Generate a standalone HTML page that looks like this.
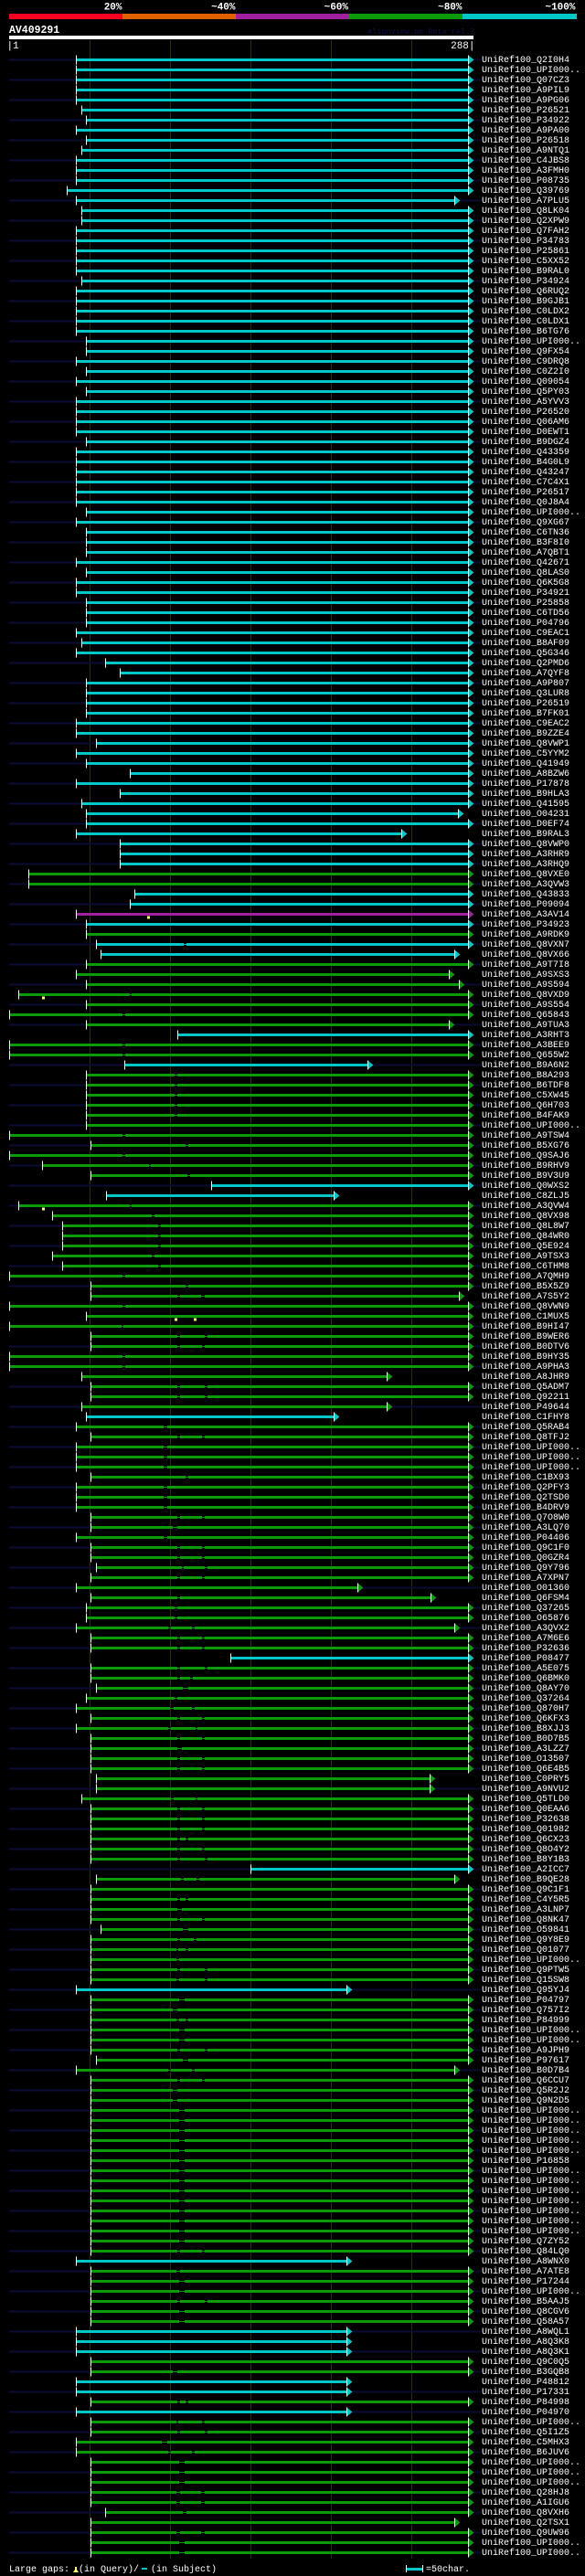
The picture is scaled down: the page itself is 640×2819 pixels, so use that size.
<!DOCTYPE html>
<html><head><meta charset="utf-8"><style>
*{margin:0;padding:0}
html,body{background:#000;width:640px;height:2819px;overflow:hidden}
svg{display:block}
text{font-family:"Liberation Mono","DejaVu Sans Mono",monospace;fill:#fff}
.r text{font-size:10px}
.hb{font-weight:bold;font-size:11px}
.c{stroke:#00c8c8;stroke-width:3}
.g{stroke:#0a9a0a;stroke-width:3}
.m{stroke:#a020a0;stroke-width:3}
.ct{stroke:#00c8c8;stroke-width:1}
.gt{stroke:#0a9a0a;stroke-width:1}
.w{stroke:#fff;stroke-width:1}
.grid{stroke:#2e2e06;stroke-width:1}
.y{fill:#ffff70}
</style></head><body>
<svg width="640" height="2819" viewBox="0 0 640 2819" xmlns="http://www.w3.org/2000/svg">
<defs>
<path id="ac" d="M0-4.5L5.5 0L0 4.5Z" fill="#00c8c8"/>
<path id="ag" d="M0-4.5L5.5 0L0 4.5Z" fill="#0a9a0a"/>
<path id="am" d="M0-4.5L5.5 0L0 4.5Z" fill="#a020a0"/>
<pattern id="nv" patternUnits="userSpaceOnUse" x="0" y="64.5" width="640" height="22"><rect x="0" y="0" width="640" height="2" fill="#0b0b36"/></pattern>
</defs>
<rect width="640" height="2819" fill="#000"/>
<!-- header -->
<text class="hb" x="133.5" y="10.5" text-anchor="end">20%</text>
<text class="hb" x="257.5" y="10.5" text-anchor="end">~40%</text>
<text class="hb" x="381" y="10.5" text-anchor="end">~60%</text>
<text class="hb" x="505.5" y="10.5" text-anchor="end">~80%</text>
<text class="hb" x="629.5" y="10.5" text-anchor="end">~100%</text>
<rect x="10" y="15" width="124" height="6" fill="#f5001e"/>
<rect x="134" y="15" width="124" height="6" fill="#e06000"/>
<rect x="258" y="15" width="124" height="6" fill="#a020a0"/>
<rect x="382" y="15" width="124" height="6" fill="#0a9a0a"/>
<rect x="506" y="15" width="125" height="6" fill="#00c8c8"/>
<text x="10" y="36" style="font-weight:bold;font-size:11.5px">AV409291</text>
<text x="402" y="37" style="font-size:8.5px;fill:#12124a">AlignView.pm Beta rel.7</text>
<rect x="10" y="39" width="508" height="4" fill="#fff"/>
<text x="7.5" y="53" style="font-size:11px">|1</text>
<text x="519.5" y="53" style="font-size:11px" text-anchor="end">288|</text>
<!-- grid -->
<path class="grid" d="M98.5 44V2800M186.5 44V2800M274.5 44V2800M362.5 44V2800M450.5 44V2800"/>
<!-- navy row stripes -->
<rect x="10" y="60" width="516" height="2740" fill="url(#nv)"/>
<g class="r">
<g transform="translate(0,65.5)"><path class="c" d="M83 0H512"/><path class="w" d="M83.5-5v10M512.5-5v10"/><use href="#ac" x="513"/><text x="527" y="2.5">UniRef100_Q2I0H4</text></g>
<g transform="translate(0,76.5)"><path class="c" d="M83 0H512"/><path class="w" d="M83.5-5v10M512.5-5v10"/><use href="#ac" x="513"/><text x="527" y="2.5">UniRef100_UPI000..</text></g>
<g transform="translate(0,87.5)"><path class="c" d="M83 0H512"/><path class="w" d="M83.5-5v10M512.5-5v10"/><use href="#ac" x="513"/><text x="527" y="2.5">UniRef100_Q07CZ3</text></g>
<g transform="translate(0,98.5)"><path class="c" d="M83 0H512"/><path class="w" d="M83.5-5v10M512.5-5v10"/><use href="#ac" x="513"/><text x="527" y="2.5">UniRef100_A9PIL9</text></g>
<g transform="translate(0,109.5)"><path class="c" d="M83 0H512"/><path class="w" d="M83.5-5v10M512.5-5v10"/><use href="#ac" x="513"/><text x="527" y="2.5">UniRef100_A9PG06</text></g>
<g transform="translate(0,120.5)"><path class="c" d="M89 0H512"/><path class="w" d="M89.5-5v10M512.5-5v10"/><use href="#ac" x="513"/><text x="527" y="2.5">UniRef100_P26521</text></g>
<g transform="translate(0,131.5)"><path class="c" d="M94 0H512"/><path class="w" d="M94.5-5v10M512.5-5v10"/><use href="#ac" x="513"/><text x="527" y="2.5">UniRef100_P34922</text></g>
<g transform="translate(0,142.5)"><path class="c" d="M83 0H512"/><path class="w" d="M83.5-5v10M512.5-5v10"/><use href="#ac" x="513"/><text x="527" y="2.5">UniRef100_A9PA00</text></g>
<g transform="translate(0,153.5)"><path class="c" d="M94 0H512"/><path class="w" d="M94.5-5v10M512.5-5v10"/><use href="#ac" x="513"/><text x="527" y="2.5">UniRef100_P26518</text></g>
<g transform="translate(0,164.5)"><path class="c" d="M89 0H512"/><path class="w" d="M89.5-5v10M512.5-5v10"/><use href="#ac" x="513"/><text x="527" y="2.5">UniRef100_A9NTQ1</text></g>
<g transform="translate(0,175.5)"><path class="c" d="M83 0H512"/><path class="w" d="M83.5-5v10M512.5-5v10"/><use href="#ac" x="513"/><text x="527" y="2.5">UniRef100_C4JBS8</text></g>
<g transform="translate(0,186.5)"><path class="c" d="M83 0H512"/><path class="w" d="M83.5-5v10M512.5-5v10"/><use href="#ac" x="513"/><text x="527" y="2.5">UniRef100_A3FMH0</text></g>
<g transform="translate(0,197.5)"><path class="c" d="M83 0H512"/><path class="w" d="M83.5-5v10M512.5-5v10"/><use href="#ac" x="513"/><text x="527" y="2.5">UniRef100_P08735</text></g>
<g transform="translate(0,208.5)"><path class="c" d="M73 0H512"/><path class="w" d="M73.5-5v10M512.5-5v10"/><use href="#ac" x="513"/><text x="527" y="2.5">UniRef100_Q39769</text></g>
<g transform="translate(0,219.5)"><path class="c" d="M83 0H497"/><path class="w" d="M83.5-5v10M497.5-5v10"/><use href="#ac" x="498"/><text x="527" y="2.5">UniRef100_A7PLU5</text></g>
<g transform="translate(0,230.5)"><path class="c" d="M89 0H512"/><path class="w" d="M89.5-5v10M512.5-5v10"/><use href="#ac" x="513"/><text x="527" y="2.5">UniRef100_Q8LK04</text></g>
<g transform="translate(0,241.5)"><path class="c" d="M89 0H512"/><path class="w" d="M89.5-5v10M512.5-5v10"/><use href="#ac" x="513"/><text x="527" y="2.5">UniRef100_Q2XPW9</text></g>
<g transform="translate(0,252.5)"><path class="c" d="M83 0H512"/><path class="w" d="M83.5-5v10M512.5-5v10"/><use href="#ac" x="513"/><text x="527" y="2.5">UniRef100_Q7FAH2</text></g>
<g transform="translate(0,263.5)"><path class="c" d="M83 0H512"/><path class="w" d="M83.5-5v10M512.5-5v10"/><use href="#ac" x="513"/><text x="527" y="2.5">UniRef100_P34783</text></g>
<g transform="translate(0,274.5)"><path class="c" d="M83 0H512"/><path class="w" d="M83.5-5v10M512.5-5v10"/><use href="#ac" x="513"/><text x="527" y="2.5">UniRef100_P25861</text></g>
<g transform="translate(0,285.5)"><path class="c" d="M83 0H512"/><path class="w" d="M83.5-5v10M512.5-5v10"/><use href="#ac" x="513"/><text x="527" y="2.5">UniRef100_C5XX52</text></g>
<g transform="translate(0,296.5)"><path class="c" d="M83 0H512"/><path class="w" d="M83.5-5v10M512.5-5v10"/><use href="#ac" x="513"/><text x="527" y="2.5">UniRef100_B9RAL0</text></g>
<g transform="translate(0,307.5)"><path class="c" d="M89 0H512"/><path class="w" d="M89.5-5v10M512.5-5v10"/><use href="#ac" x="513"/><text x="527" y="2.5">UniRef100_P34924</text></g>
<g transform="translate(0,318.5)"><path class="c" d="M83 0H512"/><path class="w" d="M83.5-5v10M512.5-5v10"/><use href="#ac" x="513"/><text x="527" y="2.5">UniRef100_Q6RUQ2</text></g>
<g transform="translate(0,329.5)"><path class="c" d="M83 0H512"/><path class="w" d="M83.5-5v10M512.5-5v10"/><use href="#ac" x="513"/><text x="527" y="2.5">UniRef100_B9GJB1</text></g>
<g transform="translate(0,340.5)"><path class="c" d="M83 0H512"/><path class="w" d="M83.5-5v10M512.5-5v10"/><use href="#ac" x="513"/><text x="527" y="2.5">UniRef100_C0LDX2</text></g>
<g transform="translate(0,351.5)"><path class="c" d="M83 0H512"/><path class="w" d="M83.5-5v10M512.5-5v10"/><use href="#ac" x="513"/><text x="527" y="2.5">UniRef100_C0LDX1</text></g>
<g transform="translate(0,362.5)"><path class="c" d="M83 0H512"/><path class="w" d="M83.5-5v10M512.5-5v10"/><use href="#ac" x="513"/><text x="527" y="2.5">UniRef100_B6TG76</text></g>
<g transform="translate(0,373.5)"><path class="c" d="M94 0H512"/><path class="w" d="M94.5-5v10M512.5-5v10"/><use href="#ac" x="513"/><text x="527" y="2.5">UniRef100_UPI000..</text></g>
<g transform="translate(0,384.5)"><path class="c" d="M94 0H512"/><path class="w" d="M94.5-5v10M512.5-5v10"/><use href="#ac" x="513"/><text x="527" y="2.5">UniRef100_Q9FX54</text></g>
<g transform="translate(0,395.5)"><path class="c" d="M83 0H512"/><path class="w" d="M83.5-5v10M512.5-5v10"/><use href="#ac" x="513"/><text x="527" y="2.5">UniRef100_C9DRQ8</text></g>
<g transform="translate(0,406.5)"><path class="c" d="M94 0H512"/><path class="w" d="M94.5-5v10M512.5-5v10"/><use href="#ac" x="513"/><text x="527" y="2.5">UniRef100_C0Z2I0</text></g>
<g transform="translate(0,417.5)"><path class="c" d="M83 0H512"/><path class="w" d="M83.5-5v10M512.5-5v10"/><use href="#ac" x="513"/><text x="527" y="2.5">UniRef100_Q09054</text></g>
<g transform="translate(0,428.5)"><path class="c" d="M94 0H512"/><path class="w" d="M94.5-5v10M512.5-5v10"/><use href="#ac" x="513"/><text x="527" y="2.5">UniRef100_Q5PY03</text></g>
<g transform="translate(0,439.5)"><path class="c" d="M83 0H512"/><path class="w" d="M83.5-5v10M512.5-5v10"/><use href="#ac" x="513"/><text x="527" y="2.5">UniRef100_A5YVV3</text></g>
<g transform="translate(0,450.5)"><path class="c" d="M83 0H512"/><path class="w" d="M83.5-5v10M512.5-5v10"/><use href="#ac" x="513"/><text x="527" y="2.5">UniRef100_P26520</text></g>
<g transform="translate(0,461.5)"><path class="c" d="M83 0H512"/><path class="w" d="M83.5-5v10M512.5-5v10"/><use href="#ac" x="513"/><text x="527" y="2.5">UniRef100_Q06AM6</text></g>
<g transform="translate(0,472.5)"><path class="c" d="M83 0H512"/><path class="w" d="M83.5-5v10M512.5-5v10"/><use href="#ac" x="513"/><text x="527" y="2.5">UniRef100_D0EWT1</text></g>
<g transform="translate(0,483.5)"><path class="c" d="M94 0H512"/><path class="w" d="M94.5-5v10M512.5-5v10"/><use href="#ac" x="513"/><text x="527" y="2.5">UniRef100_B9DGZ4</text></g>
<g transform="translate(0,494.5)"><path class="c" d="M83 0H512"/><path class="w" d="M83.5-5v10M512.5-5v10"/><use href="#ac" x="513"/><text x="527" y="2.5">UniRef100_Q43359</text></g>
<g transform="translate(0,505.5)"><path class="c" d="M83 0H512"/><path class="w" d="M83.5-5v10M512.5-5v10"/><use href="#ac" x="513"/><text x="527" y="2.5">UniRef100_B4G0L9</text></g>
<g transform="translate(0,516.5)"><path class="c" d="M83 0H512"/><path class="w" d="M83.5-5v10M512.5-5v10"/><use href="#ac" x="513"/><text x="527" y="2.5">UniRef100_Q43247</text></g>
<g transform="translate(0,527.5)"><path class="c" d="M83 0H512"/><path class="w" d="M83.5-5v10M512.5-5v10"/><use href="#ac" x="513"/><text x="527" y="2.5">UniRef100_C7C4X1</text></g>
<g transform="translate(0,538.5)"><path class="c" d="M83 0H512"/><path class="w" d="M83.5-5v10M512.5-5v10"/><use href="#ac" x="513"/><text x="527" y="2.5">UniRef100_P26517</text></g>
<g transform="translate(0,549.5)"><path class="c" d="M83 0H512"/><path class="w" d="M83.5-5v10M512.5-5v10"/><use href="#ac" x="513"/><text x="527" y="2.5">UniRef100_Q0J8A4</text></g>
<g transform="translate(0,560.5)"><path class="c" d="M94 0H512"/><path class="w" d="M94.5-5v10M512.5-5v10"/><use href="#ac" x="513"/><text x="527" y="2.5">UniRef100_UPI000..</text></g>
<g transform="translate(0,571.5)"><path class="c" d="M83 0H512"/><path class="w" d="M83.5-5v10M512.5-5v10"/><use href="#ac" x="513"/><text x="527" y="2.5">UniRef100_Q9XG67</text></g>
<g transform="translate(0,582.5)"><path class="c" d="M94 0H512"/><path class="w" d="M94.5-5v10M512.5-5v10"/><use href="#ac" x="513"/><text x="527" y="2.5">UniRef100_C6TN36</text></g>
<g transform="translate(0,593.5)"><path class="c" d="M94 0H512"/><path class="w" d="M94.5-5v10M512.5-5v10"/><use href="#ac" x="513"/><text x="527" y="2.5">UniRef100_B3F8I0</text></g>
<g transform="translate(0,604.5)"><path class="c" d="M94 0H512"/><path class="w" d="M94.5-5v10M512.5-5v10"/><use href="#ac" x="513"/><text x="527" y="2.5">UniRef100_A7QBT1</text></g>
<g transform="translate(0,615.5)"><path class="c" d="M83 0H512"/><path class="w" d="M83.5-5v10M512.5-5v10"/><use href="#ac" x="513"/><text x="527" y="2.5">UniRef100_Q42671</text></g>
<g transform="translate(0,626.5)"><path class="c" d="M94 0H512"/><path class="w" d="M94.5-5v10M512.5-5v10"/><use href="#ac" x="513"/><text x="527" y="2.5">UniRef100_Q8LAS0</text></g>
<g transform="translate(0,637.5)"><path class="c" d="M83 0H512"/><path class="w" d="M83.5-5v10M512.5-5v10"/><use href="#ac" x="513"/><text x="527" y="2.5">UniRef100_Q6K5G8</text></g>
<g transform="translate(0,648.5)"><path class="c" d="M83 0H512"/><path class="w" d="M83.5-5v10M512.5-5v10"/><use href="#ac" x="513"/><text x="527" y="2.5">UniRef100_P34921</text></g>
<g transform="translate(0,659.5)"><path class="c" d="M94 0H512"/><path class="w" d="M94.5-5v10M512.5-5v10"/><use href="#ac" x="513"/><text x="527" y="2.5">UniRef100_P25858</text></g>
<g transform="translate(0,670.5)"><path class="c" d="M94 0H512"/><path class="w" d="M94.5-5v10M512.5-5v10"/><use href="#ac" x="513"/><text x="527" y="2.5">UniRef100_C6TD56</text></g>
<g transform="translate(0,681.5)"><path class="c" d="M94 0H512"/><path class="w" d="M94.5-5v10M512.5-5v10"/><use href="#ac" x="513"/><text x="527" y="2.5">UniRef100_P04796</text></g>
<g transform="translate(0,692.5)"><path class="c" d="M83 0H512"/><path class="w" d="M83.5-5v10M512.5-5v10"/><use href="#ac" x="513"/><text x="527" y="2.5">UniRef100_C9EAC1</text></g>
<g transform="translate(0,703.5)"><path class="c" d="M89 0H512"/><path class="w" d="M89.5-5v10M512.5-5v10"/><use href="#ac" x="513"/><text x="527" y="2.5">UniRef100_B8AF09</text></g>
<g transform="translate(0,714.5)"><path class="c" d="M83 0H512"/><path class="w" d="M83.5-5v10M512.5-5v10"/><use href="#ac" x="513"/><text x="527" y="2.5">UniRef100_Q5G346</text></g>
<g transform="translate(0,725.5)"><path class="c" d="M115 0H512"/><path class="w" d="M115.5-5v10M512.5-5v10"/><use href="#ac" x="513"/><text x="527" y="2.5">UniRef100_Q2PMD6</text></g>
<g transform="translate(0,736.5)"><path class="c" d="M131 0H512"/><path class="w" d="M131.5-5v10M512.5-5v10"/><use href="#ac" x="513"/><text x="527" y="2.5">UniRef100_A7QYF8</text></g>
<g transform="translate(0,747.5)"><path class="c" d="M94 0H512"/><path class="w" d="M94.5-5v10M512.5-5v10"/><use href="#ac" x="513"/><text x="527" y="2.5">UniRef100_A9P807</text></g>
<g transform="translate(0,758.5)"><path class="c" d="M94 0H512"/><path class="w" d="M94.5-5v10M512.5-5v10"/><use href="#ac" x="513"/><text x="527" y="2.5">UniRef100_Q3LUR8</text></g>
<g transform="translate(0,769.5)"><path class="c" d="M94 0H512"/><path class="w" d="M94.5-5v10M512.5-5v10"/><use href="#ac" x="513"/><text x="527" y="2.5">UniRef100_P26519</text></g>
<g transform="translate(0,780.5)"><path class="c" d="M94 0H512"/><path class="w" d="M94.5-5v10M512.5-5v10"/><use href="#ac" x="513"/><text x="527" y="2.5">UniRef100_B7FK01</text></g>
<g transform="translate(0,791.5)"><path class="c" d="M83 0H512"/><path class="w" d="M83.5-5v10M512.5-5v10"/><use href="#ac" x="513"/><text x="527" y="2.5">UniRef100_C9EAC2</text></g>
<g transform="translate(0,802.5)"><path class="c" d="M83 0H512"/><path class="w" d="M83.5-5v10M512.5-5v10"/><use href="#ac" x="513"/><text x="527" y="2.5">UniRef100_B9ZZE4</text></g>
<g transform="translate(0,813.5)"><path class="c" d="M105 0H512"/><path class="w" d="M105.5-5v10M512.5-5v10"/><use href="#ac" x="513"/><text x="527" y="2.5">UniRef100_Q8VWP1</text></g>
<g transform="translate(0,824.5)"><path class="c" d="M83 0H512"/><path class="w" d="M83.5-5v10M512.5-5v10"/><use href="#ac" x="513"/><text x="527" y="2.5">UniRef100_C5YYM2</text></g>
<g transform="translate(0,835.5)"><path class="c" d="M94 0H512"/><path class="w" d="M94.5-5v10M512.5-5v10"/><use href="#ac" x="513"/><text x="527" y="2.5">UniRef100_Q41949</text></g>
<g transform="translate(0,846.5)"><path class="c" d="M142 0H512"/><path class="w" d="M142.5-5v10M512.5-5v10"/><use href="#ac" x="513"/><text x="527" y="2.5">UniRef100_A8BZW6</text></g>
<g transform="translate(0,857.5)"><path class="c" d="M83 0H512"/><path class="w" d="M83.5-5v10M512.5-5v10"/><use href="#ac" x="513"/><text x="527" y="2.5">UniRef100_P17878</text></g>
<g transform="translate(0,868.5)"><path class="c" d="M131 0H512"/><path class="w" d="M131.5-5v10M512.5-5v10"/><use href="#ac" x="513"/><text x="527" y="2.5">UniRef100_B9HLA3</text></g>
<g transform="translate(0,879.5)"><path class="c" d="M89 0H512"/><path class="w" d="M89.5-5v10M512.5-5v10"/><use href="#ac" x="513"/><text x="527" y="2.5">UniRef100_Q41595</text></g>
<g transform="translate(0,890.5)"><path class="c" d="M94 0H501"/><path class="w" d="M94.5-5v10M501.5-5v10"/><use href="#ac" x="502"/><text x="527" y="2.5">UniRef100_O04231</text></g>
<g transform="translate(0,901.5)"><path class="c" d="M94 0H512"/><path class="w" d="M94.5-5v10M512.5-5v10"/><use href="#ac" x="513"/><text x="527" y="2.5">UniRef100_D0EF74</text></g>
<g transform="translate(0,912.5)"><path class="c" d="M83 0H439"/><path class="w" d="M83.5-5v10M439.5-5v10"/><use href="#ac" x="440"/><text x="527" y="2.5">UniRef100_B9RAL3</text></g>
<g transform="translate(0,923.5)"><path class="c" d="M131 0H512"/><path class="w" d="M131.5-5v10M512.5-5v10"/><use href="#ac" x="513"/><text x="527" y="2.5">UniRef100_Q8VWP0</text></g>
<g transform="translate(0,934.5)"><path class="c" d="M131 0H512"/><path class="w" d="M131.5-5v10M512.5-5v10"/><use href="#ac" x="513"/><text x="527" y="2.5">UniRef100_A3RHR9</text></g>
<g transform="translate(0,945.5)"><path class="c" d="M131 0H512"/><path class="w" d="M131.5-5v10M512.5-5v10"/><use href="#ac" x="513"/><text x="527" y="2.5">UniRef100_A3RHQ9</text></g>
<g transform="translate(0,956.5)"><path class="g" d="M31 0H512"/><path class="w" d="M31.5-5v10M512.5-5v10"/><use href="#ag" x="513"/><text x="527" y="2.5">UniRef100_Q8VXE0</text></g>
<g transform="translate(0,967.5)"><path class="g" d="M31 0H512"/><path class="w" d="M31.5-5v10M512.5-5v10"/><use href="#ag" x="513"/><text x="527" y="2.5">UniRef100_A3QVW3</text></g>
<g transform="translate(0,978.5)"><path class="c" d="M147 0H512"/><path class="w" d="M147.5-5v10M512.5-5v10"/><use href="#ac" x="513"/><text x="527" y="2.5">UniRef100_Q43833</text></g>
<g transform="translate(0,989.5)"><path class="c" d="M142 0H512"/><path class="w" d="M142.5-5v10M512.5-5v10"/><use href="#ac" x="513"/><text x="527" y="2.5">UniRef100_P09094</text></g>
<g transform="translate(0,1000.5)"><path class="m" d="M83 0H512"/><path class="w" d="M83.5-5v10M512.5-5v10"/><use href="#am" x="513"/><rect class="y" x="161" y="2" width="3" height="3"/><text x="527" y="2.5">UniRef100_A3AV14</text></g>
<g transform="translate(0,1011.5)"><path class="c" d="M94 0H512"/><path class="w" d="M94.5-5v10M512.5-5v10"/><use href="#ac" x="513"/><text x="527" y="2.5">UniRef100_P34923</text></g>
<g transform="translate(0,1022.5)"><path class="g" d="M94 0H512"/><path class="w" d="M94.5-5v10M512.5-5v10"/><use href="#ag" x="513"/><text x="527" y="2.5">UniRef100_A9RDK9</text></g>
<g transform="translate(0,1033.5)"><path class="ct" d="M105 0H512"/><path class="c" d="M105 0H201M204 0H512"/><path class="w" d="M105.5-5v10M512.5-5v10"/><use href="#ac" x="513"/><text x="527" y="2.5">UniRef100_Q8VXN7</text></g>
<g transform="translate(0,1044.5)"><path class="c" d="M110 0H497"/><path class="w" d="M110.5-5v10M497.5-5v10"/><use href="#ac" x="498"/><text x="527" y="2.5">UniRef100_Q8VX66</text></g>
<g transform="translate(0,1055.5)"><path class="g" d="M94 0H512"/><path class="w" d="M94.5-5v10M512.5-5v10"/><use href="#ag" x="513"/><text x="527" y="2.5">UniRef100_A9T7I8</text></g>
<g transform="translate(0,1066.5)"><path class="g" d="M83 0H491"/><path class="w" d="M83.5-5v10M491.5-5v10"/><use href="#ag" x="492"/><text x="527" y="2.5">UniRef100_A9SXS3</text></g>
<g transform="translate(0,1077.5)"><path class="g" d="M94 0H502"/><path class="w" d="M94.5-5v10M502.5-5v10"/><use href="#ag" x="503"/><text x="527" y="2.5">UniRef100_A9S594</text></g>
<g transform="translate(0,1088.5)"><path class="gt" d="M20 0H512"/><path class="g" d="M20 0H142M144 0H512"/><path class="w" d="M20.5-5v10M512.5-5v10"/><use href="#ag" x="513"/><rect class="y" x="46" y="2" width="3" height="3"/><text x="527" y="2.5">UniRef100_Q8VXD9</text></g>
<g transform="translate(0,1099.5)"><path class="g" d="M94 0H512"/><path class="w" d="M94.5-5v10M512.5-5v10"/><use href="#ag" x="513"/><text x="527" y="2.5">UniRef100_A9S554</text></g>
<g transform="translate(0,1110.5)"><path class="gt" d="M10 0H512"/><path class="g" d="M10 0H134M137 0H512"/><path class="w" d="M10.5-5v10M512.5-5v10"/><use href="#ag" x="513"/><text x="527" y="2.5">UniRef100_Q65843</text></g>
<g transform="translate(0,1121.5)"><path class="g" d="M94 0H491"/><path class="w" d="M94.5-5v10M491.5-5v10"/><use href="#ag" x="492"/><text x="527" y="2.5">UniRef100_A9TUA3</text></g>
<g transform="translate(0,1132.5)"><path class="c" d="M194 0H512"/><path class="w" d="M194.5-5v10M512.5-5v10"/><use href="#ac" x="513"/><text x="527" y="2.5">UniRef100_A3RHT3</text></g>
<g transform="translate(0,1143.5)"><path class="gt" d="M10 0H512"/><path class="g" d="M10 0H134M137 0H512"/><path class="w" d="M10.5-5v10M512.5-5v10"/><use href="#ag" x="513"/><text x="527" y="2.5">UniRef100_A3BEE9</text></g>
<g transform="translate(0,1154.5)"><path class="gt" d="M10 0H512"/><path class="g" d="M10 0H134M137 0H512"/><path class="w" d="M10.5-5v10M512.5-5v10"/><use href="#ag" x="513"/><text x="527" y="2.5">UniRef100_Q655W2</text></g>
<g transform="translate(0,1165.5)"><path class="c" d="M136 0H402"/><path class="w" d="M136.5-5v10M402.5-5v10"/><use href="#ac" x="403"/><text x="527" y="2.5">UniRef100_B9A6N2</text></g>
<g transform="translate(0,1176.5)"><path class="gt" d="M94 0H512"/><path class="g" d="M94 0H191M194 0H512"/><path class="w" d="M94.5-5v10M512.5-5v10"/><use href="#ag" x="513"/><text x="527" y="2.5">UniRef100_B8A293</text></g>
<g transform="translate(0,1187.5)"><path class="gt" d="M94 0H512"/><path class="g" d="M94 0H191M194 0H512"/><path class="w" d="M94.5-5v10M512.5-5v10"/><use href="#ag" x="513"/><text x="527" y="2.5">UniRef100_B6TDF8</text></g>
<g transform="translate(0,1198.5)"><path class="gt" d="M94 0H512"/><path class="g" d="M94 0H191M194 0H512"/><path class="w" d="M94.5-5v10M512.5-5v10"/><use href="#ag" x="513"/><text x="527" y="2.5">UniRef100_C5XW45</text></g>
<g transform="translate(0,1209.5)"><path class="gt" d="M94 0H512"/><path class="g" d="M94 0H191M194 0H512"/><path class="w" d="M94.5-5v10M512.5-5v10"/><use href="#ag" x="513"/><text x="527" y="2.5">UniRef100_Q6H703</text></g>
<g transform="translate(0,1220.5)"><path class="gt" d="M94 0H512"/><path class="g" d="M94 0H191M194 0H512"/><path class="w" d="M94.5-5v10M512.5-5v10"/><use href="#ag" x="513"/><text x="527" y="2.5">UniRef100_B4FAK9</text></g>
<g transform="translate(0,1231.5)"><path class="g" d="M94 0H512"/><path class="w" d="M94.5-5v10M512.5-5v10"/><use href="#ag" x="513"/><text x="527" y="2.5">UniRef100_UPI000..</text></g>
<g transform="translate(0,1242.5)"><path class="gt" d="M10 0H512"/><path class="g" d="M10 0H134M137 0H512"/><path class="w" d="M10.5-5v10M512.5-5v10"/><use href="#ag" x="513"/><text x="527" y="2.5">UniRef100_A9TSW4</text></g>
<g transform="translate(0,1253.5)"><path class="gt" d="M99 0H512"/><path class="g" d="M99 0H203M206 0H512"/><path class="w" d="M99.5-5v10M512.5-5v10"/><use href="#ag" x="513"/><text x="527" y="2.5">UniRef100_B5XG76</text></g>
<g transform="translate(0,1264.5)"><path class="gt" d="M10 0H512"/><path class="g" d="M10 0H134M137 0H512"/><path class="w" d="M10.5-5v10M512.5-5v10"/><use href="#ag" x="513"/><text x="527" y="2.5">UniRef100_Q9SAJ6</text></g>
<g transform="translate(0,1275.5)"><path class="gt" d="M46 0H512"/><path class="g" d="M46 0H163M165 0H512"/><path class="w" d="M46.5-5v10M512.5-5v10"/><use href="#ag" x="513"/><text x="527" y="2.5">UniRef100_B9RHV9</text></g>
<g transform="translate(0,1286.5)"><path class="gt" d="M99 0H512"/><path class="g" d="M99 0H205M208 0H512"/><path class="w" d="M99.5-5v10M512.5-5v10"/><use href="#ag" x="513"/><text x="527" y="2.5">UniRef100_B9V3U9</text></g>
<g transform="translate(0,1297.5)"><path class="c" d="M231 0H512"/><path class="w" d="M231.5-5v10M512.5-5v10"/><use href="#ac" x="513"/><text x="527" y="2.5">UniRef100_Q0WXS2</text></g>
<g transform="translate(0,1308.5)"><path class="c" d="M116 0H365"/><path class="w" d="M116.5-5v10M365.5-5v10"/><use href="#ac" x="366"/><text x="527" y="2.5">UniRef100_C8ZLJ5</text></g>
<g transform="translate(0,1319.5)"><path class="gt" d="M20 0H512"/><path class="g" d="M20 0H142M144 0H512"/><path class="w" d="M20.5-5v10M512.5-5v10"/><use href="#ag" x="513"/><rect class="y" x="46" y="2" width="3" height="3"/><text x="527" y="2.5">UniRef100_A3QVW4</text></g>
<g transform="translate(0,1330.5)"><path class="gt" d="M57 0H512"/><path class="g" d="M57 0H166M169 0H512"/><path class="w" d="M57.5-5v10M512.5-5v10"/><use href="#ag" x="513"/><text x="527" y="2.5">UniRef100_Q8VX98</text></g>
<g transform="translate(0,1341.5)"><path class="gt" d="M68 0H512"/><path class="g" d="M68 0H173M176 0H512"/><path class="w" d="M68.5-5v10M512.5-5v10"/><use href="#ag" x="513"/><text x="527" y="2.5">UniRef100_Q8L8W7</text></g>
<g transform="translate(0,1352.5)"><path class="gt" d="M68 0H512"/><path class="g" d="M68 0H173M176 0H512"/><path class="w" d="M68.5-5v10M512.5-5v10"/><use href="#ag" x="513"/><text x="527" y="2.5">UniRef100_Q84WR0</text></g>
<g transform="translate(0,1363.5)"><path class="gt" d="M68 0H512"/><path class="g" d="M68 0H173M176 0H512"/><path class="w" d="M68.5-5v10M512.5-5v10"/><use href="#ag" x="513"/><text x="527" y="2.5">UniRef100_Q5E924</text></g>
<g transform="translate(0,1374.5)"><path class="gt" d="M57 0H512"/><path class="g" d="M57 0H166M169 0H512"/><path class="w" d="M57.5-5v10M512.5-5v10"/><use href="#ag" x="513"/><text x="527" y="2.5">UniRef100_A9TSX3</text></g>
<g transform="translate(0,1385.5)"><path class="gt" d="M68 0H512"/><path class="g" d="M68 0H173M176 0H512"/><path class="w" d="M68.5-5v10M512.5-5v10"/><use href="#ag" x="513"/><text x="527" y="2.5">UniRef100_C6THM8</text></g>
<g transform="translate(0,1396.5)"><path class="gt" d="M10 0H512"/><path class="g" d="M10 0H134M137 0H512"/><path class="w" d="M10.5-5v10M512.5-5v10"/><use href="#ag" x="513"/><text x="527" y="2.5">UniRef100_A7QMH9</text></g>
<g transform="translate(0,1407.5)"><path class="gt" d="M99 0H512"/><path class="g" d="M99 0H203M206 0H512"/><path class="w" d="M99.5-5v10M512.5-5v10"/><use href="#ag" x="513"/><text x="527" y="2.5">UniRef100_B5X5Z9</text></g>
<g transform="translate(0,1418.5)"><path class="gt" d="M99 0H502"/><path class="g" d="M99 0H194M197 0H220M224 0H502"/><path class="w" d="M99.5-5v10M502.5-5v10"/><use href="#ag" x="503"/><text x="527" y="2.5">UniRef100_A7S5Y2</text></g>
<g transform="translate(0,1429.5)"><path class="gt" d="M10 0H512"/><path class="g" d="M10 0H134M137 0H512"/><path class="w" d="M10.5-5v10M512.5-5v10"/><use href="#ag" x="513"/><text x="527" y="2.5">UniRef100_Q8VWN9</text></g>
<g transform="translate(0,1440.5)"><path class="g" d="M94 0H512"/><path class="w" d="M94.5-5v10M512.5-5v10"/><use href="#ag" x="513"/><rect class="y" x="191" y="2" width="3" height="3"/><rect class="y" x="212" y="2" width="3" height="3"/><text x="527" y="2.5">UniRef100_C1MUX5</text></g>
<g transform="translate(0,1451.5)"><path class="gt" d="M10 0H512"/><path class="g" d="M10 0H133M135 0H512"/><path class="w" d="M10.5-5v10M512.5-5v10"/><use href="#ag" x="513"/><text x="527" y="2.5">UniRef100_B9HI47</text></g>
<g transform="translate(0,1462.5)"><path class="gt" d="M99 0H512"/><path class="g" d="M99 0H194M197 0H224M227 0H512"/><path class="w" d="M99.5-5v10M512.5-5v10"/><use href="#ag" x="513"/><text x="527" y="2.5">UniRef100_B9WER6</text></g>
<g transform="translate(0,1473.5)"><path class="gt" d="M99 0H512"/><path class="g" d="M99 0H194M197 0H221M224 0H512"/><path class="w" d="M99.5-5v10M512.5-5v10"/><use href="#ag" x="513"/><text x="527" y="2.5">UniRef100_B0DTV6</text></g>
<g transform="translate(0,1484.5)"><path class="gt" d="M10 0H512"/><path class="g" d="M10 0H134M137 0H512"/><path class="w" d="M10.5-5v10M512.5-5v10"/><use href="#ag" x="513"/><text x="527" y="2.5">UniRef100_B9HY35</text></g>
<g transform="translate(0,1495.5)"><path class="gt" d="M10 0H512"/><path class="g" d="M10 0H134M137 0H512"/><path class="w" d="M10.5-5v10M512.5-5v10"/><use href="#ag" x="513"/><text x="527" y="2.5">UniRef100_A9PHA3</text></g>
<g transform="translate(0,1506.5)"><path class="g" d="M89 0H423"/><path class="w" d="M89.5-5v10M423.5-5v10"/><use href="#ag" x="424"/><text x="527" y="2.5">UniRef100_A8JHR9</text></g>
<g transform="translate(0,1517.5)"><path class="gt" d="M99 0H512"/><path class="g" d="M99 0H194M197 0H224M227 0H512"/><path class="w" d="M99.5-5v10M512.5-5v10"/><use href="#ag" x="513"/><text x="527" y="2.5">UniRef100_Q5ADM7</text></g>
<g transform="translate(0,1528.5)"><path class="gt" d="M99 0H512"/><path class="g" d="M99 0H194M197 0H224M227 0H512"/><path class="w" d="M99.5-5v10M512.5-5v10"/><use href="#ag" x="513"/><text x="527" y="2.5">UniRef100_Q92211</text></g>
<g transform="translate(0,1539.5)"><path class="g" d="M89 0H423"/><path class="w" d="M89.5-5v10M423.5-5v10"/><use href="#ag" x="424"/><text x="527" y="2.5">UniRef100_P49644</text></g>
<g transform="translate(0,1550.5)"><path class="c" d="M94 0H365"/><path class="w" d="M94.5-5v10M365.5-5v10"/><use href="#ac" x="366"/><text x="527" y="2.5">UniRef100_C1FHY8</text></g>
<g transform="translate(0,1561.5)"><path class="gt" d="M83 0H512"/><path class="g" d="M83 0H179M183 0H512"/><path class="w" d="M83.5-5v10M512.5-5v10"/><use href="#ag" x="513"/><text x="527" y="2.5">UniRef100_Q5RAB4</text></g>
<g transform="translate(0,1572.5)"><path class="gt" d="M99 0H512"/><path class="g" d="M99 0H194M197 0H221M224 0H512"/><path class="w" d="M99.5-5v10M512.5-5v10"/><use href="#ag" x="513"/><text x="527" y="2.5">UniRef100_Q8TFJ2</text></g>
<g transform="translate(0,1583.5)"><path class="gt" d="M83 0H512"/><path class="g" d="M83 0H179M183 0H512"/><path class="w" d="M83.5-5v10M512.5-5v10"/><use href="#ag" x="513"/><text x="527" y="2.5">UniRef100_UPI000..</text></g>
<g transform="translate(0,1594.5)"><path class="gt" d="M83 0H512"/><path class="g" d="M83 0H179M183 0H512"/><path class="w" d="M83.5-5v10M512.5-5v10"/><use href="#ag" x="513"/><text x="527" y="2.5">UniRef100_UPI000..</text></g>
<g transform="translate(0,1605.5)"><path class="gt" d="M83 0H512"/><path class="g" d="M83 0H179M183 0H512"/><path class="w" d="M83.5-5v10M512.5-5v10"/><use href="#ag" x="513"/><text x="527" y="2.5">UniRef100_UPI000..</text></g>
<g transform="translate(0,1616.5)"><path class="gt" d="M99 0H512"/><path class="g" d="M99 0H203M206 0H512"/><path class="w" d="M99.5-5v10M512.5-5v10"/><use href="#ag" x="513"/><text x="527" y="2.5">UniRef100_C1BX93</text></g>
<g transform="translate(0,1627.5)"><path class="gt" d="M83 0H512"/><path class="g" d="M83 0H179M183 0H512"/><path class="w" d="M83.5-5v10M512.5-5v10"/><use href="#ag" x="513"/><text x="527" y="2.5">UniRef100_Q2PFY3</text></g>
<g transform="translate(0,1638.5)"><path class="gt" d="M83 0H512"/><path class="g" d="M83 0H179M183 0H512"/><path class="w" d="M83.5-5v10M512.5-5v10"/><use href="#ag" x="513"/><text x="527" y="2.5">UniRef100_Q2TSD0</text></g>
<g transform="translate(0,1649.5)"><path class="gt" d="M83 0H512"/><path class="g" d="M83 0H179M183 0H512"/><path class="w" d="M83.5-5v10M512.5-5v10"/><use href="#ag" x="513"/><text x="527" y="2.5">UniRef100_B4DRV9</text></g>
<g transform="translate(0,1660.5)"><path class="gt" d="M99 0H512"/><path class="g" d="M99 0H194M197 0H221M224 0H512"/><path class="w" d="M99.5-5v10M512.5-5v10"/><use href="#ag" x="513"/><text x="527" y="2.5">UniRef100_Q7O8W0</text></g>
<g transform="translate(0,1671.5)"><path class="gt" d="M99 0H512"/><path class="g" d="M99 0H189M194 0H512"/><path class="w" d="M99.5-5v10M512.5-5v10"/><use href="#ag" x="513"/><text x="527" y="2.5">UniRef100_A3LQ70</text></g>
<g transform="translate(0,1682.5)"><path class="gt" d="M83 0H512"/><path class="g" d="M83 0H179M183 0H512"/><path class="w" d="M83.5-5v10M512.5-5v10"/><use href="#ag" x="513"/><text x="527" y="2.5">UniRef100_P04406</text></g>
<g transform="translate(0,1693.5)"><path class="gt" d="M99 0H512"/><path class="g" d="M99 0H194M197 0H221M224 0H512"/><path class="w" d="M99.5-5v10M512.5-5v10"/><use href="#ag" x="513"/><text x="527" y="2.5">UniRef100_Q9C1F0</text></g>
<g transform="translate(0,1704.5)"><path class="gt" d="M99 0H512"/><path class="g" d="M99 0H194M197 0H221M224 0H512"/><path class="w" d="M99.5-5v10M512.5-5v10"/><use href="#ag" x="513"/><text x="527" y="2.5">UniRef100_Q0GZR4</text></g>
<g transform="translate(0,1715.5)"><path class="gt" d="M105 0H512"/><path class="g" d="M105 0H199M201 0H224M227 0H512"/><path class="w" d="M105.5-5v10M512.5-5v10"/><use href="#ag" x="513"/><text x="527" y="2.5">UniRef100_Q9Y796</text></g>
<g transform="translate(0,1726.5)"><path class="gt" d="M99 0H512"/><path class="g" d="M99 0H194M197 0H221M224 0H512"/><path class="w" d="M99.5-5v10M512.5-5v10"/><use href="#ag" x="513"/><text x="527" y="2.5">UniRef100_A7XPN7</text></g>
<g transform="translate(0,1737.5)"><path class="g" d="M83 0H391"/><path class="w" d="M83.5-5v10M391.5-5v10"/><use href="#ag" x="392"/><text x="527" y="2.5">UniRef100_O01360</text></g>
<g transform="translate(0,1748.5)"><path class="gt" d="M99 0H471"/><path class="g" d="M99 0H194M197 0H471"/><path class="w" d="M99.5-5v10M471.5-5v10"/><use href="#ag" x="472"/><text x="527" y="2.5">UniRef100_Q6FSM4</text></g>
<g transform="translate(0,1759.5)"><path class="gt" d="M94 0H512"/><path class="g" d="M94 0H191M194 0H512"/><path class="w" d="M94.5-5v10M512.5-5v10"/><use href="#ag" x="513"/><text x="527" y="2.5">UniRef100_Q37265</text></g>
<g transform="translate(0,1770.5)"><path class="gt" d="M94 0H512"/><path class="g" d="M94 0H191M194 0H512"/><path class="w" d="M94.5-5v10M512.5-5v10"/><use href="#ag" x="513"/><text x="527" y="2.5">UniRef100_O65876</text></g>
<g transform="translate(0,1781.5)"><path class="gt" d="M83 0H497"/><path class="g" d="M83 0H184M187 0H210M213 0H497"/><path class="w" d="M83.5-5v10M497.5-5v10"/><use href="#ag" x="498"/><text x="527" y="2.5">UniRef100_A3QVX2</text></g>
<g transform="translate(0,1792.5)"><path class="gt" d="M99 0H512"/><path class="g" d="M99 0H194M197 0H221M224 0H512"/><path class="w" d="M99.5-5v10M512.5-5v10"/><use href="#ag" x="513"/><text x="527" y="2.5">UniRef100_A7M6E6</text></g>
<g transform="translate(0,1803.5)"><path class="gt" d="M99 0H512"/><path class="g" d="M99 0H194M197 0H221M224 0H512"/><path class="w" d="M99.5-5v10M512.5-5v10"/><use href="#ag" x="513"/><text x="527" y="2.5">UniRef100_P32636</text></g>
<g transform="translate(0,1814.5)"><path class="c" d="M252 0H512"/><path class="w" d="M252.5-5v10M512.5-5v10"/><use href="#ac" x="513"/><text x="527" y="2.5">UniRef100_P08477</text></g>
<g transform="translate(0,1825.5)"><path class="gt" d="M99 0H512"/><path class="g" d="M99 0H194M197 0H224M227 0H512"/><path class="w" d="M99.5-5v10M512.5-5v10"/><use href="#ag" x="513"/><text x="527" y="2.5">UniRef100_A5E075</text></g>
<g transform="translate(0,1836.5)"><path class="gt" d="M99 0H512"/><path class="g" d="M99 0H194M197 0H208M211 0H512"/><path class="w" d="M99.5-5v10M512.5-5v10"/><use href="#ag" x="513"/><text x="527" y="2.5">UniRef100_Q6BMK0</text></g>
<g transform="translate(0,1847.5)"><path class="gt" d="M105 0H512"/><path class="g" d="M105 0H200M206 0H512"/><path class="w" d="M105.5-5v10M512.5-5v10"/><use href="#ag" x="513"/><text x="527" y="2.5">UniRef100_Q8AY70</text></g>
<g transform="translate(0,1858.5)"><path class="gt" d="M94 0H512"/><path class="g" d="M94 0H191M194 0H512"/><path class="w" d="M94.5-5v10M512.5-5v10"/><use href="#ag" x="513"/><text x="527" y="2.5">UniRef100_Q37264</text></g>
<g transform="translate(0,1869.5)"><path class="gt" d="M83 0H512"/><path class="g" d="M83 0H186M190 0H210M213 0H512"/><path class="w" d="M83.5-5v10M512.5-5v10"/><use href="#ag" x="513"/><text x="527" y="2.5">UniRef100_Q870H7</text></g>
<g transform="translate(0,1880.5)"><path class="gt" d="M99 0H512"/><path class="g" d="M99 0H194M197 0H221M224 0H512"/><path class="w" d="M99.5-5v10M512.5-5v10"/><use href="#ag" x="513"/><text x="527" y="2.5">UniRef100_Q6KFX3</text></g>
<g transform="translate(0,1891.5)"><path class="gt" d="M83 0H512"/><path class="g" d="M83 0H184M187 0H214M216 0H512"/><path class="w" d="M83.5-5v10M512.5-5v10"/><use href="#ag" x="513"/><text x="527" y="2.5">UniRef100_B8XJJ3</text></g>
<g transform="translate(0,1902.5)"><path class="gt" d="M99 0H512"/><path class="g" d="M99 0H194M197 0H221M224 0H512"/><path class="w" d="M99.5-5v10M512.5-5v10"/><use href="#ag" x="513"/><text x="527" y="2.5">UniRef100_B0D7B5</text></g>
<g transform="translate(0,1913.5)"><path class="gt" d="M99 0H512"/><path class="g" d="M99 0H194M199 0H512"/><path class="w" d="M99.5-5v10M512.5-5v10"/><use href="#ag" x="513"/><text x="527" y="2.5">UniRef100_A3LZZ7</text></g>
<g transform="translate(0,1924.5)"><path class="gt" d="M99 0H512"/><path class="g" d="M99 0H194M197 0H221M224 0H512"/><path class="w" d="M99.5-5v10M512.5-5v10"/><use href="#ag" x="513"/><text x="527" y="2.5">UniRef100_O13507</text></g>
<g transform="translate(0,1935.5)"><path class="gt" d="M99 0H512"/><path class="g" d="M99 0H194M197 0H221M224 0H512"/><path class="w" d="M99.5-5v10M512.5-5v10"/><use href="#ag" x="513"/><text x="527" y="2.5">UniRef100_Q6E4B5</text></g>
<g transform="translate(0,1946.5)"><path class="g" d="M105 0H470"/><path class="w" d="M105.5-5v10M470.5-5v10"/><use href="#ag" x="471"/><text x="527" y="2.5">UniRef100_C0PRY5</text></g>
<g transform="translate(0,1957.5)"><path class="g" d="M105 0H470"/><path class="w" d="M105.5-5v10M470.5-5v10"/><use href="#ag" x="471"/><text x="527" y="2.5">UniRef100_A9NVU2</text></g>
<g transform="translate(0,1968.5)"><path class="gt" d="M89 0H512"/><path class="g" d="M89 0H187M190 0H214M216 0H512"/><path class="w" d="M89.5-5v10M512.5-5v10"/><use href="#ag" x="513"/><text x="527" y="2.5">UniRef100_Q5TLD0</text></g>
<g transform="translate(0,1979.5)"><path class="gt" d="M99 0H512"/><path class="g" d="M99 0H194M197 0H221M224 0H512"/><path class="w" d="M99.5-5v10M512.5-5v10"/><use href="#ag" x="513"/><text x="527" y="2.5">UniRef100_Q0EAA6</text></g>
<g transform="translate(0,1990.5)"><path class="gt" d="M99 0H512"/><path class="g" d="M99 0H194M197 0H221M224 0H512"/><path class="w" d="M99.5-5v10M512.5-5v10"/><use href="#ag" x="513"/><text x="527" y="2.5">UniRef100_P32638</text></g>
<g transform="translate(0,2001.5)"><path class="gt" d="M99 0H512"/><path class="g" d="M99 0H194M197 0H221M224 0H512"/><path class="w" d="M99.5-5v10M512.5-5v10"/><use href="#ag" x="513"/><text x="527" y="2.5">UniRef100_Q01982</text></g>
<g transform="translate(0,2012.5)"><path class="gt" d="M99 0H512"/><path class="g" d="M99 0H194M197 0H203M206 0H512"/><path class="w" d="M99.5-5v10M512.5-5v10"/><use href="#ag" x="513"/><text x="527" y="2.5">UniRef100_Q6CX23</text></g>
<g transform="translate(0,2023.5)"><path class="gt" d="M99 0H512"/><path class="g" d="M99 0H194M197 0H221M224 0H512"/><path class="w" d="M99.5-5v10M512.5-5v10"/><use href="#ag" x="513"/><text x="527" y="2.5">UniRef100_Q8O4Y2</text></g>
<g transform="translate(0,2034.5)"><path class="gt" d="M99 0H512"/><path class="g" d="M99 0H194M197 0H224M227 0H512"/><path class="w" d="M99.5-5v10M512.5-5v10"/><use href="#ag" x="513"/><text x="527" y="2.5">UniRef100_B8Y1B3</text></g>
<g transform="translate(0,2045.5)"><path class="c" d="M274 0H512"/><path class="w" d="M274.5-5v10M512.5-5v10"/><use href="#ac" x="513"/><text x="527" y="2.5">UniRef100_A2ICC7</text></g>
<g transform="translate(0,2056.5)"><path class="gt" d="M105 0H497"/><path class="g" d="M105 0H198M201 0H215M218 0H497"/><path class="w" d="M105.5-5v10M497.5-5v10"/><use href="#ag" x="498"/><text x="527" y="2.5">UniRef100_B9QE28</text></g>
<g transform="translate(0,2067.5)"><path class="g" d="M99 0H512"/><path class="w" d="M99.5-5v10M512.5-5v10"/><use href="#ag" x="513"/><text x="527" y="2.5">UniRef100_Q9C1F1</text></g>
<g transform="translate(0,2078.5)"><path class="gt" d="M99 0H512"/><path class="g" d="M99 0H194M197 0H203M206 0H512"/><path class="w" d="M99.5-5v10M512.5-5v10"/><use href="#ag" x="513"/><text x="527" y="2.5">UniRef100_C4Y5R5</text></g>
<g transform="translate(0,2089.5)"><path class="gt" d="M99 0H512"/><path class="g" d="M99 0H194M199 0H512"/><path class="w" d="M99.5-5v10M512.5-5v10"/><use href="#ag" x="513"/><text x="527" y="2.5">UniRef100_A3LNP7</text></g>
<g transform="translate(0,2100.5)"><path class="gt" d="M99 0H512"/><path class="g" d="M99 0H194M197 0H221M224 0H512"/><path class="w" d="M99.5-5v10M512.5-5v10"/><use href="#ag" x="513"/><text x="527" y="2.5">UniRef100_Q8NK47</text></g>
<g transform="translate(0,2111.5)"><path class="gt" d="M110 0H512"/><path class="g" d="M110 0H200M206 0H512"/><path class="w" d="M110.5-5v10M512.5-5v10"/><use href="#ag" x="513"/><text x="527" y="2.5">UniRef100_O59841</text></g>
<g transform="translate(0,2122.5)"><path class="gt" d="M99 0H512"/><path class="g" d="M99 0H194M197 0H212M215 0H512"/><path class="w" d="M99.5-5v10M512.5-5v10"/><use href="#ag" x="513"/><text x="527" y="2.5">UniRef100_Q9Y8E9</text></g>
<g transform="translate(0,2133.5)"><path class="gt" d="M99 0H512"/><path class="g" d="M99 0H193M195 0H203M206 0H512"/><path class="w" d="M99.5-5v10M512.5-5v10"/><use href="#ag" x="513"/><text x="527" y="2.5">UniRef100_Q01077</text></g>
<g transform="translate(0,2144.5)"><path class="gt" d="M99 0H512"/><path class="g" d="M99 0H193M196 0H512"/><path class="w" d="M99.5-5v10M512.5-5v10"/><use href="#ag" x="513"/><text x="527" y="2.5">UniRef100_UPI000..</text></g>
<g transform="translate(0,2155.5)"><path class="gt" d="M99 0H512"/><path class="g" d="M99 0H194M197 0H224M227 0H512"/><path class="w" d="M99.5-5v10M512.5-5v10"/><use href="#ag" x="513"/><text x="527" y="2.5">UniRef100_Q9PTW5</text></g>
<g transform="translate(0,2166.5)"><path class="gt" d="M99 0H512"/><path class="g" d="M99 0H193M196 0H224M227 0H512"/><path class="w" d="M99.5-5v10M512.5-5v10"/><use href="#ag" x="513"/><text x="527" y="2.5">UniRef100_Q15SW8</text></g>
<g transform="translate(0,2177.5)"><path class="c" d="M83 0H379"/><path class="w" d="M83.5-5v10M379.5-5v10"/><use href="#ac" x="380"/><text x="527" y="2.5">UniRef100_Q95YJ4</text></g>
<g transform="translate(0,2188.5)"><path class="gt" d="M99 0H512"/><path class="g" d="M99 0H196M202 0H512"/><path class="w" d="M99.5-5v10M512.5-5v10"/><use href="#ag" x="513"/><text x="527" y="2.5">UniRef100_P04797</text></g>
<g transform="translate(0,2199.5)"><path class="gt" d="M99 0H512"/><path class="g" d="M99 0H189M194 0H512"/><path class="w" d="M99.5-5v10M512.5-5v10"/><use href="#ag" x="513"/><text x="527" y="2.5">UniRef100_Q757I2</text></g>
<g transform="translate(0,2210.5)"><path class="gt" d="M99 0H512"/><path class="g" d="M99 0H193M196 0H203M206 0H512"/><path class="w" d="M99.5-5v10M512.5-5v10"/><use href="#ag" x="513"/><text x="527" y="2.5">UniRef100_P84999</text></g>
<g transform="translate(0,2221.5)"><path class="gt" d="M99 0H512"/><path class="g" d="M99 0H196M202 0H512"/><path class="w" d="M99.5-5v10M512.5-5v10"/><use href="#ag" x="513"/><text x="527" y="2.5">UniRef100_UPI000..</text></g>
<g transform="translate(0,2232.5)"><path class="gt" d="M99 0H512"/><path class="g" d="M99 0H196M202 0H512"/><path class="w" d="M99.5-5v10M512.5-5v10"/><use href="#ag" x="513"/><text x="527" y="2.5">UniRef100_UPI000..</text></g>
<g transform="translate(0,2243.5)"><path class="gt" d="M99 0H512"/><path class="g" d="M99 0H194M197 0H224M227 0H512"/><path class="w" d="M99.5-5v10M512.5-5v10"/><use href="#ag" x="513"/><text x="527" y="2.5">UniRef100_A9JPH9</text></g>
<g transform="translate(0,2254.5)"><path class="gt" d="M105 0H512"/><path class="g" d="M105 0H200M206 0H512"/><path class="w" d="M105.5-5v10M512.5-5v10"/><use href="#ag" x="513"/><text x="527" y="2.5">UniRef100_P97617</text></g>
<g transform="translate(0,2265.5)"><path class="gt" d="M83 0H497"/><path class="g" d="M83 0H184M187 0H210M213 0H497"/><path class="w" d="M83.5-5v10M497.5-5v10"/><use href="#ag" x="498"/><text x="527" y="2.5">UniRef100_B0D7B4</text></g>
<g transform="translate(0,2276.5)"><path class="gt" d="M99 0H512"/><path class="g" d="M99 0H194M197 0H221M224 0H512"/><path class="w" d="M99.5-5v10M512.5-5v10"/><use href="#ag" x="513"/><text x="527" y="2.5">UniRef100_Q6CCU7</text></g>
<g transform="translate(0,2287.5)"><path class="gt" d="M99 0H512"/><path class="g" d="M99 0H189M194 0H512"/><path class="w" d="M99.5-5v10M512.5-5v10"/><use href="#ag" x="513"/><text x="527" y="2.5">UniRef100_Q5R2J2</text></g>
<g transform="translate(0,2298.5)"><path class="gt" d="M99 0H512"/><path class="g" d="M99 0H189M194 0H512"/><path class="w" d="M99.5-5v10M512.5-5v10"/><use href="#ag" x="513"/><text x="527" y="2.5">UniRef100_Q9N2D5</text></g>
<g transform="translate(0,2309.5)"><path class="gt" d="M99 0H512"/><path class="g" d="M99 0H196M202 0H512"/><path class="w" d="M99.5-5v10M512.5-5v10"/><use href="#ag" x="513"/><text x="527" y="2.5">UniRef100_UPI000..</text></g>
<g transform="translate(0,2320.5)"><path class="gt" d="M99 0H512"/><path class="g" d="M99 0H196M202 0H512"/><path class="w" d="M99.5-5v10M512.5-5v10"/><use href="#ag" x="513"/><text x="527" y="2.5">UniRef100_UPI000..</text></g>
<g transform="translate(0,2331.5)"><path class="gt" d="M99 0H512"/><path class="g" d="M99 0H196M202 0H512"/><path class="w" d="M99.5-5v10M512.5-5v10"/><use href="#ag" x="513"/><text x="527" y="2.5">UniRef100_UPI000..</text></g>
<g transform="translate(0,2342.5)"><path class="gt" d="M99 0H512"/><path class="g" d="M99 0H196M202 0H512"/><path class="w" d="M99.5-5v10M512.5-5v10"/><use href="#ag" x="513"/><text x="527" y="2.5">UniRef100_UPI000..</text></g>
<g transform="translate(0,2353.5)"><path class="gt" d="M99 0H512"/><path class="g" d="M99 0H196M202 0H512"/><path class="w" d="M99.5-5v10M512.5-5v10"/><use href="#ag" x="513"/><text x="527" y="2.5">UniRef100_UPI000..</text></g>
<g transform="translate(0,2364.5)"><path class="gt" d="M99 0H512"/><path class="g" d="M99 0H196M202 0H512"/><path class="w" d="M99.5-5v10M512.5-5v10"/><use href="#ag" x="513"/><text x="527" y="2.5">UniRef100_P16858</text></g>
<g transform="translate(0,2375.5)"><path class="gt" d="M99 0H512"/><path class="g" d="M99 0H196M202 0H512"/><path class="w" d="M99.5-5v10M512.5-5v10"/><use href="#ag" x="513"/><text x="527" y="2.5">UniRef100_UPI000..</text></g>
<g transform="translate(0,2386.5)"><path class="gt" d="M99 0H512"/><path class="g" d="M99 0H196M202 0H512"/><path class="w" d="M99.5-5v10M512.5-5v10"/><use href="#ag" x="513"/><text x="527" y="2.5">UniRef100_UPI000..</text></g>
<g transform="translate(0,2397.5)"><path class="gt" d="M99 0H512"/><path class="g" d="M99 0H196M202 0H512"/><path class="w" d="M99.5-5v10M512.5-5v10"/><use href="#ag" x="513"/><text x="527" y="2.5">UniRef100_UPI000..</text></g>
<g transform="translate(0,2408.5)"><path class="gt" d="M99 0H512"/><path class="g" d="M99 0H196M202 0H512"/><path class="w" d="M99.5-5v10M512.5-5v10"/><use href="#ag" x="513"/><text x="527" y="2.5">UniRef100_UPI000..</text></g>
<g transform="translate(0,2419.5)"><path class="gt" d="M99 0H512"/><path class="g" d="M99 0H196M202 0H512"/><path class="w" d="M99.5-5v10M512.5-5v10"/><use href="#ag" x="513"/><text x="527" y="2.5">UniRef100_UPI000..</text></g>
<g transform="translate(0,2430.5)"><path class="gt" d="M99 0H512"/><path class="g" d="M99 0H196M202 0H512"/><path class="w" d="M99.5-5v10M512.5-5v10"/><use href="#ag" x="513"/><text x="527" y="2.5">UniRef100_UPI000..</text></g>
<g transform="translate(0,2441.5)"><path class="gt" d="M99 0H512"/><path class="g" d="M99 0H196M202 0H512"/><path class="w" d="M99.5-5v10M512.5-5v10"/><use href="#ag" x="513"/><text x="527" y="2.5">UniRef100_UPI000..</text></g>
<g transform="translate(0,2452.5)"><path class="gt" d="M99 0H512"/><path class="g" d="M99 0H196M202 0H512"/><path class="w" d="M99.5-5v10M512.5-5v10"/><use href="#ag" x="513"/><text x="527" y="2.5">UniRef100_Q7ZY52</text></g>
<g transform="translate(0,2463.5)"><path class="gt" d="M99 0H512"/><path class="g" d="M99 0H194M197 0H221M224 0H512"/><path class="w" d="M99.5-5v10M512.5-5v10"/><use href="#ag" x="513"/><text x="527" y="2.5">UniRef100_Q84LQ0</text></g>
<g transform="translate(0,2474.5)"><path class="c" d="M83 0H379"/><path class="w" d="M83.5-5v10M379.5-5v10"/><use href="#ac" x="380"/><text x="527" y="2.5">UniRef100_A8WNX0</text></g>
<g transform="translate(0,2485.5)"><path class="gt" d="M99 0H512"/><path class="g" d="M99 0H193M197 0H512"/><path class="w" d="M99.5-5v10M512.5-5v10"/><use href="#ag" x="513"/><text x="527" y="2.5">UniRef100_A7ATE8</text></g>
<g transform="translate(0,2496.5)"><path class="gt" d="M99 0H512"/><path class="g" d="M99 0H196M202 0H512"/><path class="w" d="M99.5-5v10M512.5-5v10"/><use href="#ag" x="513"/><text x="527" y="2.5">UniRef100_P17244</text></g>
<g transform="translate(0,2507.5)"><path class="gt" d="M99 0H512"/><path class="g" d="M99 0H196M202 0H512"/><path class="w" d="M99.5-5v10M512.5-5v10"/><use href="#ag" x="513"/><text x="527" y="2.5">UniRef100_UPI000..</text></g>
<g transform="translate(0,2518.5)"><path class="gt" d="M99 0H512"/><path class="g" d="M99 0H194M197 0H224M227 0H512"/><path class="w" d="M99.5-5v10M512.5-5v10"/><use href="#ag" x="513"/><text x="527" y="2.5">UniRef100_B5AAJ5</text></g>
<g transform="translate(0,2529.5)"><path class="gt" d="M99 0H512"/><path class="g" d="M99 0H196M202 0H512"/><path class="w" d="M99.5-5v10M512.5-5v10"/><use href="#ag" x="513"/><text x="527" y="2.5">UniRef100_Q8CGV6</text></g>
<g transform="translate(0,2540.5)"><path class="gt" d="M99 0H512"/><path class="g" d="M99 0H196M202 0H512"/><path class="w" d="M99.5-5v10M512.5-5v10"/><use href="#ag" x="513"/><text x="527" y="2.5">UniRef100_Q58A57</text></g>
<g transform="translate(0,2551.5)"><path class="c" d="M83 0H379"/><path class="w" d="M83.5-5v10M379.5-5v10"/><use href="#ac" x="380"/><text x="527" y="2.5">UniRef100_A8WQL1</text></g>
<g transform="translate(0,2562.5)"><path class="c" d="M83 0H379"/><path class="w" d="M83.5-5v10M379.5-5v10"/><use href="#ac" x="380"/><text x="527" y="2.5">UniRef100_A8Q3K8</text></g>
<g transform="translate(0,2573.5)"><path class="c" d="M83 0H379"/><path class="w" d="M83.5-5v10M379.5-5v10"/><use href="#ac" x="380"/><text x="527" y="2.5">UniRef100_A8Q3K1</text></g>
<g transform="translate(0,2584.5)"><path class="g" d="M99 0H512"/><path class="w" d="M99.5-5v10M512.5-5v10"/><use href="#ag" x="513"/><text x="527" y="2.5">UniRef100_Q9C0Q5</text></g>
<g transform="translate(0,2595.5)"><path class="gt" d="M99 0H512"/><path class="g" d="M99 0H189M194 0H512"/><path class="w" d="M99.5-5v10M512.5-5v10"/><use href="#ag" x="513"/><text x="527" y="2.5">UniRef100_B3GQB8</text></g>
<g transform="translate(0,2606.5)"><path class="c" d="M83 0H379"/><path class="w" d="M83.5-5v10M379.5-5v10"/><use href="#ac" x="380"/><text x="527" y="2.5">UniRef100_P48812</text></g>
<g transform="translate(0,2617.5)"><path class="c" d="M83 0H379"/><path class="w" d="M83.5-5v10M379.5-5v10"/><use href="#ac" x="380"/><text x="527" y="2.5">UniRef100_P17331</text></g>
<g transform="translate(0,2628.5)"><path class="gt" d="M99 0H512"/><path class="g" d="M99 0H194M197 0H203M206 0H512"/><path class="w" d="M99.5-5v10M512.5-5v10"/><use href="#ag" x="513"/><text x="527" y="2.5">UniRef100_P84998</text></g>
<g transform="translate(0,2639.5)"><path class="c" d="M83 0H379"/><path class="w" d="M83.5-5v10M379.5-5v10"/><use href="#ac" x="380"/><text x="527" y="2.5">UniRef100_P04970</text></g>
<g transform="translate(0,2650.5)"><path class="gt" d="M99 0H512"/><path class="g" d="M99 0H193M195 0H221M224 0H512"/><path class="w" d="M99.5-5v10M512.5-5v10"/><use href="#ag" x="513"/><text x="527" y="2.5">UniRef100_UPI000..</text></g>
<g transform="translate(0,2661.5)"><path class="gt" d="M99 0H512"/><path class="g" d="M99 0H194M197 0H224M227 0H512"/><path class="w" d="M99.5-5v10M512.5-5v10"/><use href="#ag" x="513"/><text x="527" y="2.5">UniRef100_Q5I1Z5</text></g>
<g transform="translate(0,2672.5)"><path class="gt" d="M83 0H512"/><path class="g" d="M83 0H177M183 0H512"/><path class="w" d="M83.5-5v10M512.5-5v10"/><use href="#ag" x="513"/><text x="527" y="2.5">UniRef100_C5MHX3</text></g>
<g transform="translate(0,2683.5)"><path class="gt" d="M83 0H512"/><path class="g" d="M83 0H184M187 0H210M213 0H512"/><path class="w" d="M83.5-5v10M512.5-5v10"/><use href="#ag" x="513"/><text x="527" y="2.5">UniRef100_B6JUV6</text></g>
<g transform="translate(0,2694.5)"><path class="gt" d="M99 0H512"/><path class="g" d="M99 0H196M202 0H512"/><path class="w" d="M99.5-5v10M512.5-5v10"/><use href="#ag" x="513"/><text x="527" y="2.5">UniRef100_UPI000..</text></g>
<g transform="translate(0,2705.5)"><path class="gt" d="M99 0H512"/><path class="g" d="M99 0H196M202 0H512"/><path class="w" d="M99.5-5v10M512.5-5v10"/><use href="#ag" x="513"/><text x="527" y="2.5">UniRef100_UPI000..</text></g>
<g transform="translate(0,2716.5)"><path class="gt" d="M99 0H512"/><path class="g" d="M99 0H196M202 0H512"/><path class="w" d="M99.5-5v10M512.5-5v10"/><use href="#ag" x="513"/><text x="527" y="2.5">UniRef100_UPI000..</text></g>
<g transform="translate(0,2727.5)"><path class="gt" d="M99 0H512"/><path class="g" d="M99 0H193M197 0H220M224 0H512"/><path class="w" d="M99.5-5v10M512.5-5v10"/><use href="#ag" x="513"/><text x="527" y="2.5">UniRef100_Q28HJ8</text></g>
<g transform="translate(0,2738.5)"><path class="gt" d="M99 0H512"/><path class="g" d="M99 0H193M197 0H220M224 0H512"/><path class="w" d="M99.5-5v10M512.5-5v10"/><use href="#ag" x="513"/><text x="527" y="2.5">UniRef100_A1IGU6</text></g>
<g transform="translate(0,2749.5)"><path class="gt" d="M115 0H512"/><path class="g" d="M115 0H200M204 0H512"/><path class="w" d="M115.5-5v10M512.5-5v10"/><use href="#ag" x="513"/><text x="527" y="2.5">UniRef100_Q8VXH6</text></g>
<g transform="translate(0,2760.5)"><path class="g" d="M99 0H497"/><path class="w" d="M99.5-5v10M497.5-5v10"/><use href="#ag" x="498"/><text x="527" y="2.5">UniRef100_Q2TSX1</text></g>
<g transform="translate(0,2771.5)"><path class="gt" d="M99 0H512"/><path class="g" d="M99 0H193M197 0H220M224 0H512"/><path class="w" d="M99.5-5v10M512.5-5v10"/><use href="#ag" x="513"/><text x="527" y="2.5">UniRef100_Q9UW96</text></g>
<g transform="translate(0,2782.5)"><path class="gt" d="M99 0H512"/><path class="g" d="M99 0H196M202 0H512"/><path class="w" d="M99.5-5v10M512.5-5v10"/><use href="#ag" x="513"/><text x="527" y="2.5">UniRef100_UPI000..</text></g>
<g transform="translate(0,2793.5)"><path class="gt" d="M99 0H512"/><path class="g" d="M99 0H196M202 0H512"/><path class="w" d="M99.5-5v10M512.5-5v10"/><use href="#ag" x="513"/><text x="527" y="2.5">UniRef100_UPI000..</text></g>
</g>
<!-- legend -->
<text x="10" y="2814" style="font-size:10px">Large gaps:</text>
<path d="M80 2815H86L84 2812V2809H82V2812Z" fill="#ffff70"/>
<text x="86" y="2814" style="font-size:10px">(in Query)/</text>
<rect x="155" y="2810" width="6" height="2" fill="#00c8c8"/>
<text x="165" y="2814" style="font-size:10px">(in Subject)</text>
<rect x="444" y="2810" width="19" height="3" fill="#00c8c8"/>
<path class="w" d="M444.5 2807v8M462.5 2807v8"/>
<text x="466" y="2814" style="font-size:10px">=50char.</text>
</svg>
</body></html>
